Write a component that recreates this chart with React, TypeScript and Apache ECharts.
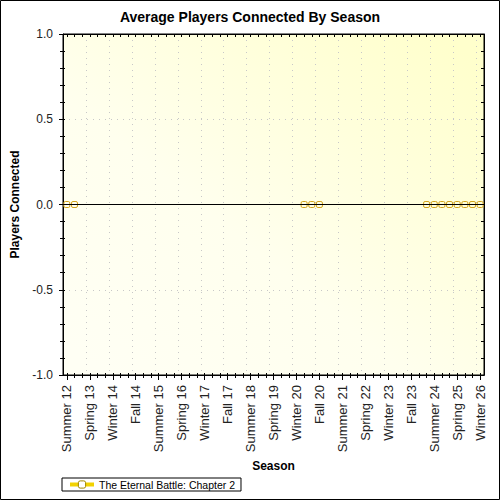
import React, { useEffect, useRef } from "react";
import * as echarts from "echarts";

const categories: string[] = [
  "Summer 12", "Fall 12", "Winter 13", "Spring 13", "Summer 13", "Fall 13", "Winter 14", "Spring 14",
  "Summer 14", "Fall 14", "Winter 15", "Spring 15", "Summer 15", "Fall 15", "Winter 16", "Spring 16",
  "Summer 16", "Fall 16", "Winter 17", "Spring 17", "Summer 17", "Fall 17", "Winter 18", "Spring 18",
  "Summer 18", "Fall 18", "Winter 19", "Spring 19", "Summer 19", "Fall 19", "Winter 20", "Spring 20",
  "Summer 20", "Fall 20", "Winter 21", "Spring 21", "Summer 21", "Fall 21", "Winter 22", "Spring 22",
  "Summer 22", "Fall 22", "Winter 23", "Spring 23", "Summer 23", "Fall 23", "Winter 24", "Spring 24",
  "Summer 24", "Fall 24", "Winter 25", "Spring 25", "Summer 25", "Fall 25", "Winter 26",
];

const playersConnected: (number | null)[] = [
  0, 0, null, null, null, null, null, null, null, null,
  null, null, null, null, null, null, null, null, null, null,
  null, null, null, null, null, null, null, null, null, null,
  null, 0, 0, 0, null, null, null, null, null, null,
  null, null, null, null, null, null, null, 0, 0, 0,
  0, 0, 0, 0, 0,
];

const seriesName = "The Eternal Battle: Chapter 2";
const titleText = "Average Players Connected By Season";
const yMin = -1;
const yMax = 1;

const FONT = "Arial, 'Liberation Sans', sans-serif";

export default function App() {
  const ref = useRef<HTMLDivElement>(null);
  useEffect(() => {
    if (!ref.current) return;
    const chart = echarts.init(ref.current, undefined, { renderer: "svg" });
    const baseCat = {
      type: "category" as const,
      data: categories,
      boundaryGap: true,
      gridIndex: 0,
    };
    chart.setOption({
      animation: false,
      backgroundColor: "#ffffff",
      title: {
        text: titleText,
        left: "center",
        top: 10,
        padding: 0,
        textStyle: { fontFamily: FONT, fontSize: 14, fontWeight: "bold", color: "#000" },
      },
      grid: {
        left: 63,
        top: 34,
        right: 16,
        bottom: 125,
        show: true,
        borderColor: "#000",
        borderWidth: 1,
        backgroundColor: {
          type: "linear",
          x: 0.1,
          y: 1,
          x2: 1,
          y2: 0.1,
          colorStops: [
            { offset: 0, color: "#FFFFF4" },
            { offset: 0.4, color: "#FFFFEE" },
            { offset: 1, color: "#FFFFCC" },
          ],
        },
      },
      legend: {
        left: 62,
        top: 478,
        padding: [1, 6, 1, 6],
        borderColor: "#000",
        borderWidth: 1,
        borderRadius: 0,
        itemWidth: 24,
        itemHeight: 9,
        itemGap: 6,
        textStyle: { fontFamily: FONT, fontSize: 10.5, color: "#000" },
        lineStyle: { color: "#F2D200", width: 4 },
        itemStyle: { color: "#ffffff", borderColor: "#A08800", borderWidth: 1 },
        data: [{ name: seriesName }],
      },
      xAxis: [
        {
          ...baseCat,
          position: "bottom",
          axisLine: { show: true, onZero: false, lineStyle: { color: "#000", width: 1 } },
          axisTick: { show: true, interval: 0, alignWithLabel: true, length: 3, lineStyle: { color: "#000" } },
          axisLabel: { show: false },
          splitLine: { show: false },
        },
        {
          ...baseCat,
          position: "bottom",
          name: "Season",
          nameLocation: "middle",
          nameGap: 84,
          nameTextStyle: { fontFamily: FONT, fontSize: 12, fontWeight: "bold", color: "#000" },
          axisLine: { show: false, onZero: false },
          axisTick: { show: true, interval: 2, alignWithLabel: true, length: 5, lineStyle: { color: "#000" } },
          axisLabel: {
            show: true,
            interval: 2,
            rotate: 90,
            margin: 10,
            fontFamily: FONT,
            fontSize: 13,
            color: "#222",
          },
          splitLine: {
            show: true,
            interval: 2,
            lineStyle: { color: "#C8C8C8", type: [1, 5], width: 1 },
          },
        },
        {
          ...baseCat,
          position: "top",
          axisLine: { show: true, onZero: false, lineStyle: { color: "#000", width: 1 } },
          axisTick: { show: true, inside: true, interval: 0, alignWithLabel: true, length: 3, lineStyle: { color: "#000" } },
          axisLabel: { show: false },
          splitLine: { show: false },
        },
        {
          ...baseCat,
          position: "bottom",
          axisLine: { show: true, onZero: false, lineStyle: { color: "#000", width: 1 } },
          axisTick: { show: true, inside: true, interval: 0, alignWithLabel: true, length: 2, lineStyle: { color: "#000" } },
          axisLabel: { show: false },
          splitLine: { show: false },
        },
        {
          ...baseCat,
          position: "bottom",
          z: 5,
          axisLine: { show: true, onZero: true, onZeroAxisIndex: 0, lineStyle: { color: "#000", width: 1 } },
          axisTick: { show: false },
          axisLabel: { show: false },
          splitLine: { show: false },
        },
      ],
      yAxis: [
        {
          type: "value",
          position: "left",
          min: yMin,
          max: yMax,
          interval: 0.5,
          name: "Players Connected",
          nameLocation: "middle",
          nameGap: 40,
          nameTextStyle: { fontFamily: FONT, fontSize: 12, fontWeight: "bold", color: "#000" },
          axisLine: { show: true, onZero: false, lineStyle: { color: "#000" } },
          axisTick: { show: true, length: 4, lineStyle: { color: "#000" } },
          minorTick: { show: true, splitNumber: 5, length: 3, lineStyle: { color: "#000" } },
          axisLabel: {
            fontFamily: FONT,
            fontSize: 12,
            color: "#222",
            margin: 10,
            formatter: (v: number) => v.toFixed(1),
          },
          splitLine: { show: true, lineStyle: { color: "#C8C8C8", type: [1, 5], width: 1 } },
        },
        {
          type: "value",
          position: "right",
          min: yMin,
          max: yMax,
          interval: 0.1,
          axisLine: { show: true, onZero: false, lineStyle: { color: "#000" } },
          axisTick: { show: true, inside: true, length: 3, lineStyle: { color: "#000" } },
          axisLabel: { show: false },
          splitLine: { show: false },
        },
        {
          type: "value",
          position: "left",
          min: yMin,
          max: yMax,
          interval: 0.1,
          axisLine: { show: false, onZero: false },
          axisTick: { show: true, inside: true, length: 2, lineStyle: { color: "#000" } },
          axisLabel: { show: false },
          splitLine: { show: false },
        },
      ],
      series: [
        {
          name: seriesName,
          type: "line",
          xAxisIndex: 0,
          yAxisIndex: 0,
          data: playersConnected,
          connectNulls: false,
          symbol: "roundRect",
          symbolSize: [6, 6],
          showAllSymbol: true,
          color: "#E8C400",
          lineStyle: { color: "#E8C400", width: 1 },
          itemStyle: { color: "rgba(255,255,255,0)", borderColor: "#D4A41C", borderWidth: 1 },
          emphasis: { disabled: true },
        },
      ],
      graphic: [
        {
          type: "rect",
          shape: { x: 0.5, y: 0.5, width: 499, height: 499 },
          style: { fill: "none", stroke: "#000", lineWidth: 1 },
          silent: true,
          z: 100,
        },
      ],
    });
    return () => chart.dispose();
  }, []);
  return (
    <div
      ref={ref}
      style={{ position: "fixed", left: 0, top: 0, width: 500, height: 500 }}
    />
  );
}
